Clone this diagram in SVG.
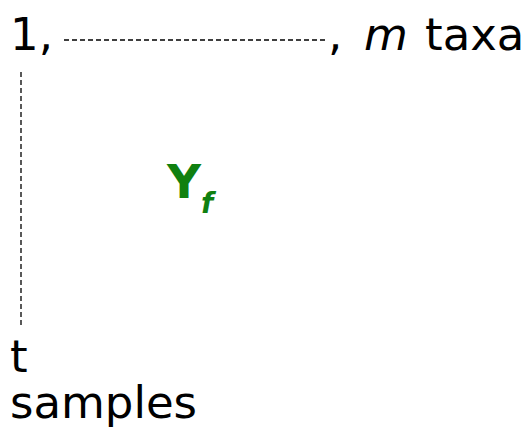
<svg xmlns="http://www.w3.org/2000/svg" width="532" height="432" viewBox="0 0 532 432">
<style>
.t{font-family:"DejaVu Sans","Liberation Sans",sans-serif;font-size:45px;fill:#000}
.d{stroke:#000;stroke-width:1.3;stroke-dasharray:5,3;fill:none}
</style>
<rect width="532" height="432" fill="#fff"/>
<g id="connectors">
<line class="d" x1="64" y1="40" x2="325" y2="40"/>
<line class="d" x1="21" y1="72" x2="21" y2="328"/>
</g>
<g id="top"><text class="t" x="10" y="50">1,</text><text class="t" y="50"><tspan x="328">,</tspan><tspan x="364" font-style="italic">m</tspan><tspan x="425">taxa</tspan></text></g>
<g id="side"><text class="t" x="10" y="372">t</text><text class="t" x="10" y="418">samples</text></g>
<g id="Yf"><text x="167" y="198" font-family="DejaVu Sans,sans-serif" font-weight="bold" font-size="47" fill="#108010">Y<tspan font-style="italic" font-size="28" dy="15">f</tspan></text></g>
</svg>
